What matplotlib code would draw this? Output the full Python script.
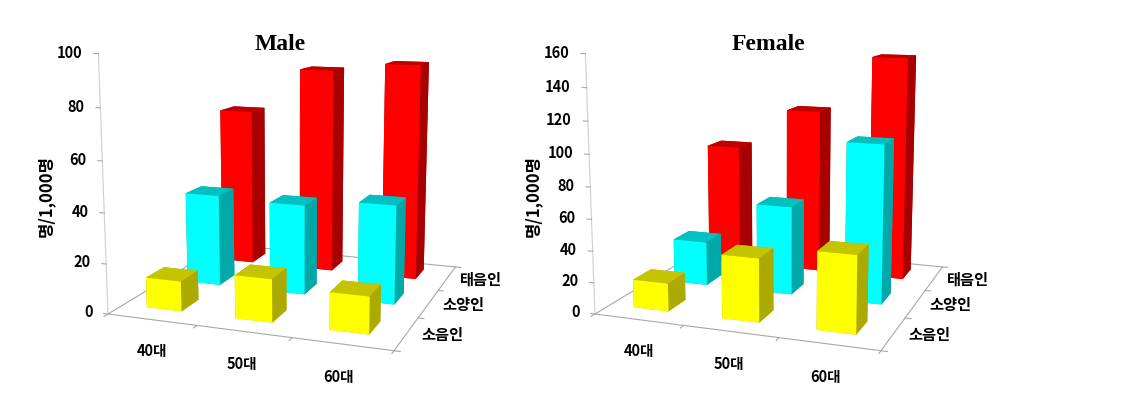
import matplotlib
matplotlib.use('Agg')
import matplotlib.pyplot as plt
from mpl_toolkits.mplot3d import proj3d

plt.rcParams['font.family'] = ['Noto Sans CJK KR', 'DejaVu Sans']

ages = ['40대', '50대', '60대']
types = ['소음인', '소양인', '태음인']

male_soeum = [12.1, 17, 14.5]
male_soyang = [38.4, 37.3, 40.3]
male_taeeum = [68.8, 88.3, 91.8]

female_soeum = [18, 40, 48]
female_soyang = [29.5, 58.5, 103]
female_taeeum = [84.5, 113, 151.5]

male_ticks = [0, 20, 40, 60, 80, 100]
female_ticks = [0, 20, 40, 60, 80, 100, 120, 140, 160]

# front, side, top
face_colors = [
    ('#ffff00', '#aaaa00', '#c4c400'),
    ('#00ffff', '#00a8a8', '#00c0c0'),
    ('#ff0000', '#a80000', '#c00000'),
]

bar_w = 0.4
bar_d = 0.42


def label(ax, x, y, z, s, **kw):
    # plain 2D text at the projected spot of a 3D point
    px, py, _ = proj3d.proj_transform(x, y, z, ax.get_proj())
    ax.text2D(px, py, s, transform=ax.transData, fontweight='bold', va='center', **kw)


def draw_panel(fig, rect, rows, ticks):
    ax = fig.add_axes(rect, projection='3d')
    ax.computed_zorder = False
    ax.set_proj_type('persp', focal_length=0.45)
    ax.view_init(elev=11, azim=-70)
    ztop = ticks[-1]
    ax.set_xlim(0, 3)
    ax.set_ylim(0, 3)
    ax.set_zlim(0, ztop)
    ax.set_box_aspect((280, 270, 247), zoom=1.067)
    ax.set_xticks([])
    ax.set_yticks([])
    ax.set_zticks([])
    ax.set_axis_off()
    ax.patch.set_alpha(0)

    grey = '#a8a8a8'
    ax.plot([0, 3, 3], [0, 0, 3], [0, 0, 0], color=grey, lw=0.8)
    ax.plot([0, 0], [0, 3], [0, 0], color=grey, lw=0.8)
    ax.plot([3, 0], [3, 3], [0, 0], color=grey, lw=0.8)
    ax.plot([0, 0], [0, 0], [0, ztop], color='#d0d0d0', lw=0.8)
    for t in ticks:
        ax.plot([0, -0.05], [0, 0], [t, t], color=grey, lw=0.8)
        label(ax, -0.18, 0, t, str(t), ha='right', fontsize=10.5)
    for i in range(4):
        ax.plot([i, i], [0, -0.08], [0, 0], color=grey, lw=0.8)
    for i in range(4):
        ax.plot([3, 3.06], [i, i], [0, 0], color=grey, lw=0.8)
    for i, lab in enumerate(ages):
        label(ax, 0.91 + 0.9 * i, -0.8, 0, lab, ha='center', fontsize=10.5)
    for j, lab in enumerate(types):
        label(ax, 3.15, j + 0.5, 0, lab, ha='left', fontsize=11)

    # back row first so the front bars cover it
    order = 3
    for j in [2, 1, 0]:
        front, side, top = face_colors[j]
        for i in range(3):
            # bar3d face order: bottom, top, -y, +y, -x, +x
            colors = [top, top, front, side, side, side]
            ax.bar3d(0.47 + i - bar_w / 2, j + 0.55 - bar_d / 2, 0, bar_w, bar_d, rows[j][i],
                     color=colors, shade=False, linewidth=0, zorder=order)
            order += 1
    return ax


fig = plt.figure(figsize=(11.46, 4.17), dpi=100, facecolor='white')

draw_panel(fig, [80.5 / 1146, 32 / 417, 417 / 1146, 1.0], [male_soeum, male_soyang, male_taeeum], male_ticks)
draw_panel(fig, [567.5 / 1146, 32 / 417, 417 / 1146, 1.0], [female_soeum, female_soyang, female_taeeum], female_ticks)

fig.text(280 / 1146, 1 - 44 / 417, 'Male', family='Liberation Serif', fontweight='bold',
         fontsize=17, ha='center', va='center')
fig.text(768 / 1146, 1 - 44 / 417, 'Female', family='Liberation Serif', fontweight='bold',
         fontsize=17, ha='center', va='center')
fig.text(46 / 1146, 1 - 196 / 417, '명/1,000명', rotation=90, fontsize=12, fontweight='bold',
         ha='center', va='center')
fig.text(533 / 1146, 1 - 196 / 417, '명/1,000명', rotation=90, fontsize=12, fontweight='bold',
         ha='center', va='center')

plt.savefig('out.png', dpi=100)
plt.close()
